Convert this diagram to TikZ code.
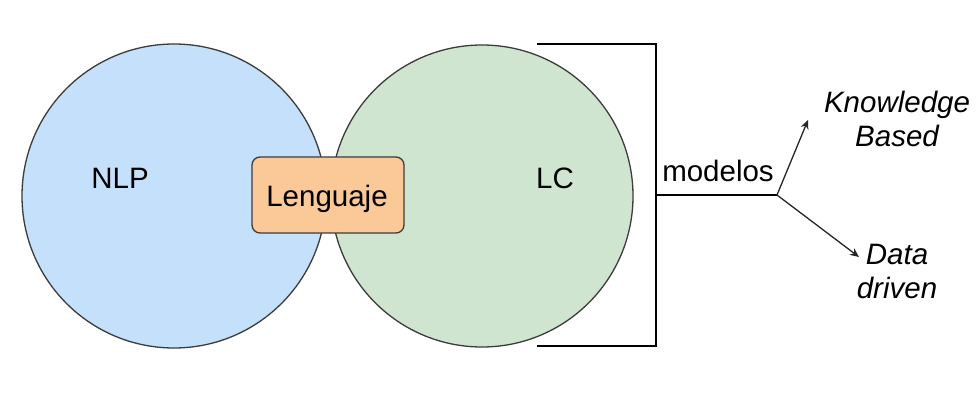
\documentclass[tikz,border=0pt]{standalone}
\usepackage{fontspec}
\setmainfont{Liberation Sans}
\usetikzlibrary{arrows.meta}
\definecolor{blueF}{RGB}{197,224,250}
\definecolor{greenF}{RGB}{207,229,207}
\definecolor{orangeF}{RGB}{251,200,152}
\definecolor{edgeC}{RGB}{60,60,60}
\tikzset{
  circ/.style={circle, draw=edgeC, line width=1.3pt, inner sep=0pt},
  lbl/.style={font=\fontsize{29.5}{34}\selectfont, inner sep=0pt, text=black},
  ital/.style={font=\fontsize{29.5}{34}\selectfont\itshape, inner sep=0pt, align=center, text=black},
  box/.style={draw=edgeC, fill=orangeF, line width=1.3pt, rounded corners=8pt, minimum width=152pt, minimum height=76pt, inner sep=0pt},
  brk/.style={line width=2.6pt, black},
  arr/.style={line width=1.3pt, black!85, -{Stealth[length=9pt,width=8pt]}}
}
\begin{document}
\begin{tikzpicture}[x=1pt,y=-1pt]
\useasboundingbox (0,0) rectangle (980,417);
\fill[white] (0,0) rectangle (980,417);
\node[circ, fill=blueF, minimum size=304pt] (nlpc) at (174,196) {};
\node[circ, fill=greenF, minimum size=302pt] (lcc) at (482,196) {};
\node[box] (leng) at (328,195) {};
\node[lbl, anchor=base] (lengt) at (327,206) {Lenguaje};
\node[lbl, anchor=base] (nlp) at (120,189) {NLP};
\node[lbl, anchor=base] (lc) at (555,189) {LC};
% bracket
\coordinate (bt) at (537,44);
\coordinate (bb) at (537,346);
\coordinate (bm) at (656,195);
\coordinate (j) at (777,195);
\draw[brk, line cap=butt] (bt) -- (656,44) -- (656,346) -- (bb);
\draw[line width=2.2pt] (bm) -- (j);
\node[lbl, anchor=base] (mod) at (718,182) {modelos};
\node[ital] (kb) at (897,118.5) {Knowledge\\Based};
\node[ital] (dd) at (897,272) {Data\\driven};
\coordinate (kbt) at (808,120);
\coordinate (ddt) at (859,257);
\draw[arr] (j) -- (kbt);
\draw[arr] (j) -- (ddt);
\end{tikzpicture}
\end{document}
